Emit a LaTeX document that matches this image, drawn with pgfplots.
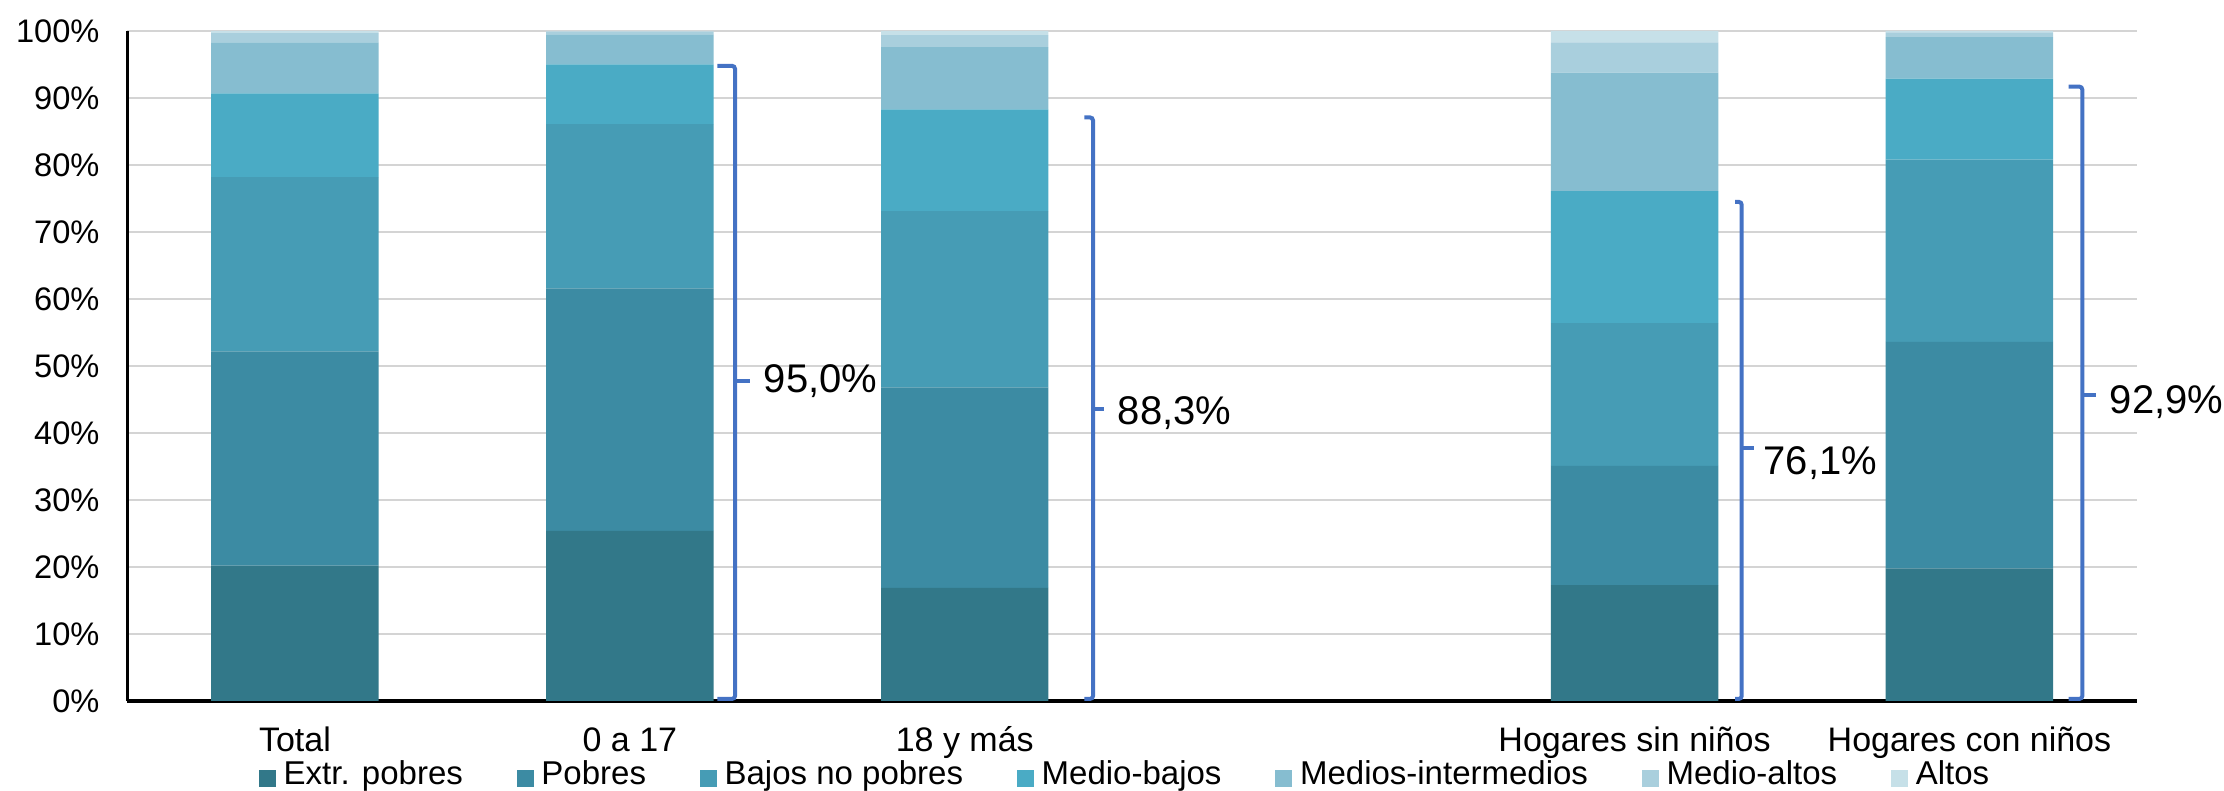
\documentclass[border=0pt]{standalone}
\usepackage{fontspec}
\setmainfont{Liberation Sans}
\usepackage{pgfplots}
\pgfplotsset{compat=1.18}
\definecolor{cA}{HTML}{327889}
\definecolor{cB}{HTML}{3C8BA3}
\definecolor{cC}{HTML}{469CB5}
\definecolor{cD}{HTML}{4AABC5}
\definecolor{cE}{HTML}{86BDD0}
\definecolor{cF}{HTML}{A9CFDD}
\definecolor{cG}{HTML}{C6E0E8}
\definecolor{brc}{RGB}{68,114,196}
\definecolor{gridc}{HTML}{D4D4D4}
\begin{document}
\begin{tikzpicture}
\begin{axis}[
  at={(0,0)}, anchor=south west,
  scale only axis, width=1004.75pt, height=335pt,
  xmin=-0.5, xmax=5.5, ymin=0, ymax=100,
  ybar stacked, bar width=0.5,
  clip=false,
  axis x line*=bottom, axis y line*=left,
  axis line style={-, black, line width=1.6pt},
  major tick length=0pt,
  xtick={0,1,2,4,5},
  xticklabels={Total,0 a 17,18 y más,Hogares sin niños,Hogares con niños},
  xticklabel style={font=\fontsize{17}{20}\selectfont, anchor=base, yshift=-25.4pt},
  ytick={0,10,...,100},
  yticklabels={0\%,10\%,20\%,30\%,40\%,50\%,60\%,70\%,80\%,90\%,100\%},
  yticklabel style={font=\fontsize{16.3}{19}\selectfont, xshift=-10.5pt},
  ymajorgrids, major grid style={draw=gridc, line width=1pt},
  legend columns=-1,
  legend image code/.code={\fill[#1,draw=none] (0pt,-4.25pt) rectangle (8.5pt,4.25pt);},
  legend style={draw=none, fill=none, inner sep=0pt, outer sep=0pt,
    at={(axis description cs:0.0655,-0.1164)}, anchor=west,
    font=\fontsize{16.5}{19}\selectfont,
    nodes={inner sep=0pt, text height=0.75em, text depth=0.22em},
    /tikz/every odd column/.append style={column sep=3.8pt},
    /tikz/every even column/.append style={column sep=27pt}},
]
\addplot[fill=cA, draw=none] coordinates {(0,20.2) (1,25.4) (2,16.9) (4,17.3) (5,19.8)};
\addplot[fill=cB, draw=none] coordinates {(0,32.0) (1,36.2) (2,29.9) (4,17.8) (5,33.8)};
\addplot[fill=cC, draw=none] coordinates {(0,26.0) (1,24.5) (2,26.3) (4,21.3) (5,27.2)};
\addplot[fill=cD, draw=none] coordinates {(0,12.5) (1,8.9) (2,15.2) (4,19.7) (5,12.1)};
\addplot[fill=cE, draw=none] coordinates {(0,7.6) (1,4.5) (2,9.3) (4,17.7) (5,6.2)};
\addplot[fill=cF, draw=none] coordinates {(0,1.4) (1,0.4) (2,1.8) (4,4.5) (5,0.7)};
\addplot[fill=cG, draw=none] coordinates {(0,0.3) (1,0.1) (2,0.6) (4,1.7) (5,0.2)};
\legend{Extr. pobres,Pobres,Bajos no pobres,Medio-bajos,Medios-intermedios,Medio-altos,Altos}
% brackets
\draw[brc, line width=2pt, rounded corners=1.5pt]
  (axis cs:1.261,94.8) -- (axis cs:1.314,94.8) -- (axis cs:1.314,0.3) -- (axis cs:1.261,0.3);
\draw[brc, line width=2pt] (axis cs:1.314,47.8) -- (axis cs:1.36,47.8);
\node[anchor=base west, inner sep=0pt, font=\fontsize{20}{24}\selectfont] at (axis cs:1.399,46.1) {95,0\%};
\draw[brc, line width=2pt, rounded corners=1.5pt]
  (axis cs:2.357,87.1) -- (axis cs:2.383,87.1) -- (axis cs:2.383,0.3) -- (axis cs:2.357,0.3);
\draw[brc, line width=2pt] (axis cs:2.383,43.6) -- (axis cs:2.416,43.6);
\node[anchor=base west, inner sep=0pt, font=\fontsize{20}{24}\selectfont] at (axis cs:2.456,41.3) {88,3\%};
\draw[brc, line width=2pt, rounded corners=1.5pt]
  (axis cs:4.30,74.5) -- (axis cs:4.32,74.5) -- (axis cs:4.32,0.3) -- (axis cs:4.30,0.3);
\draw[brc, line width=2pt] (axis cs:4.32,37.8) -- (axis cs:4.357,37.8);
\node[anchor=base west, inner sep=0pt, font=\fontsize{20}{24}\selectfont] at (axis cs:4.384,33.8) {76,1\%};
\draw[brc, line width=2pt, rounded corners=1.5pt]
  (axis cs:5.296,91.7) -- (axis cs:5.337,91.7) -- (axis cs:5.337,0.3) -- (axis cs:5.296,0.3);
\draw[brc, line width=2pt] (axis cs:5.337,45.7) -- (axis cs:5.378,45.7);
\node[anchor=base west, inner sep=0pt, font=\fontsize{20}{24}\selectfont] at (axis cs:5.418,42.9) {92,9\%};
\end{axis}
\pgfresetboundingbox
\path (-63.75pt,-45pt) rectangle (1048.25pt,350.5pt);
\end{tikzpicture}
\end{document}
